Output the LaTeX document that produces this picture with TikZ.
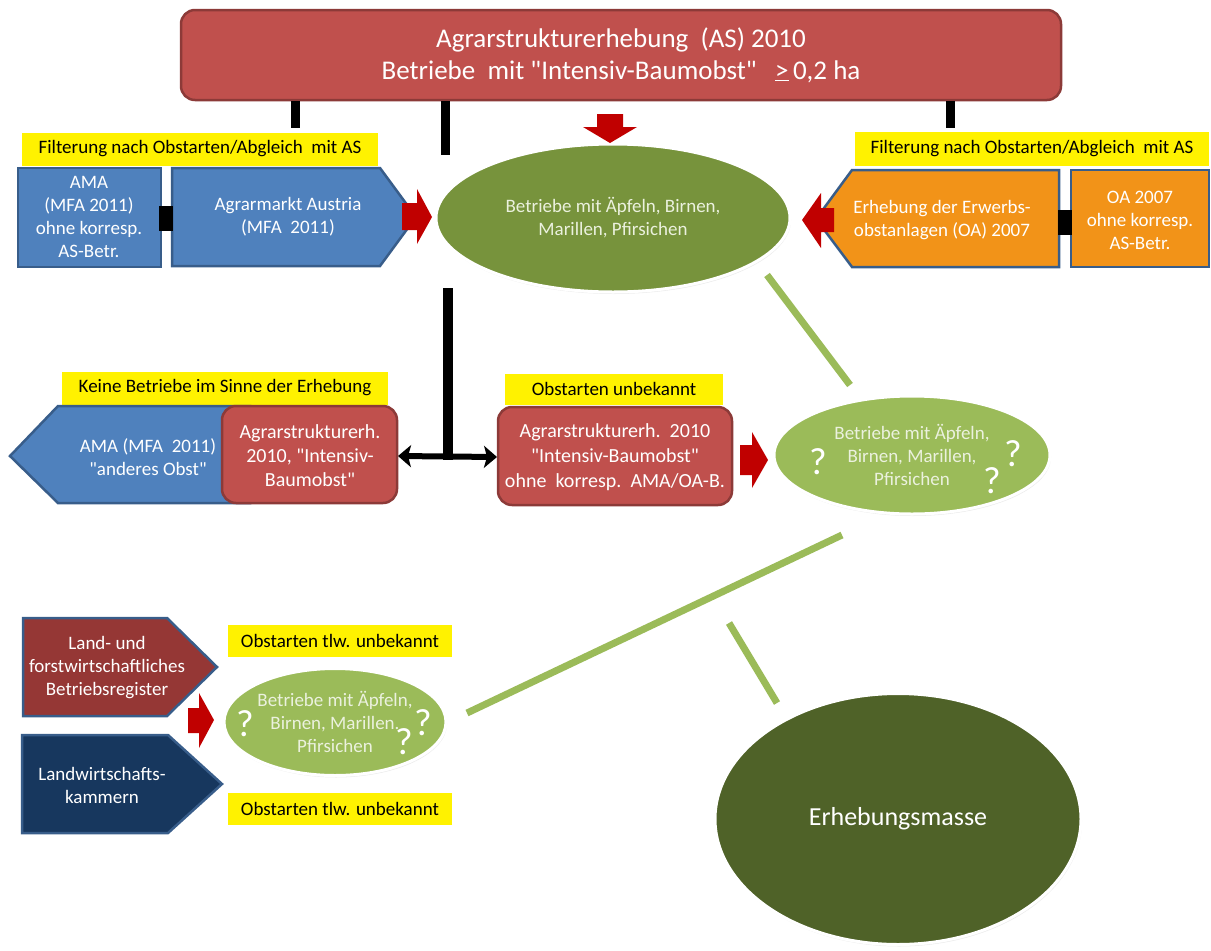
\documentclass[tikz,border=0pt]{standalone}
\usepackage{fontspec}
\setmainfont{Carlito}[Ligatures=TeXReset]
\usetikzlibrary{shapes.geometric,arrows.meta,shadows}
\definecolor{boxred}{HTML}{C0504D}
\definecolor{boxredline}{HTML}{8C3A38}
\definecolor{boxblue}{HTML}{4F81BD}
\definecolor{boxblueline}{HTML}{385D8A}
\definecolor{boxorange}{HTML}{F29318}
\definecolor{darkred}{HTML}{953735}
\definecolor{navy}{HTML}{17375E}
\definecolor{arrowred}{HTML}{C00000}
\definecolor{ellgreen}{HTML}{77933C}
\definecolor{lightgreen}{HTML}{9BBB59}
\definecolor{massgreen}{HTML}{4F6228}
\definecolor{paletext}{HTML}{EBF1DE}
\begin{document}
\begin{tikzpicture}[x=1pt,y=-1pt,
  txt/.style={align=center,text=white,font=\fontsize{19}{23}\selectfont,inner sep=0},
  etxt/.style={align=center,text=paletext,font=\fontsize{19}{23}\selectfont,inner sep=0},
  ylabel/.style={fill=yellow,inner sep=0,text=black,font=\fontsize{19}{21}\selectfont},
  bluebox/.style={fill=boxblue,draw=boxblueline,line width=2.5pt},
  orangebox/.style={fill=boxorange,draw=boxblueline,line width=2.5pt},
  redbox/.style={fill=boxred,draw=boxredline,line width=2.5pt,rounded corners=14pt},
  ell/.style={ellipse,draw=white,line width=3pt,inner sep=0,
     drop shadow={shadow xshift=1pt,shadow yshift=-2pt,opacity=0.15}},
  redarrow/.style={fill=arrowred},
  bar/.style={line width=9pt,black},
  greenbar/.style={line width=7pt,lightgreen},
  qm/.style={text=white,font=\fontsize{38}{38}\selectfont,inner sep=0}]
\useasboundingbox (0,0) rectangle (1211,951);

% ---- top box
\node[redbox,minimum width=880pt,minimum height=90pt,text=white,align=center,
  font=\fontsize{27}{32}\selectfont] (top) at (621,55)
  {Agrarstrukturerhebung~~(AS) 2010\\Betriebe~~mit "Intensiv-Baumobst"~~~\underline{>}\,0,2 ha};
\coordinate (b1) at (295,128);
\coordinate (b2) at (445,155);
\coordinate (b3) at (950,128);
\draw[bar] (top.south -| b1) -- (b1);
\draw[bar] (top.south -| b2) -- (b2);
\draw[bar] (top.south -| b3) -- (b3);

% ---- yellow labels
\node[ylabel,minimum width=356pt,minimum height=33pt] (yl1) at (200,149) {Filterung nach Obstarten/Abgleich~~mit AS};
\node[ylabel,minimum width=354pt,minimum height=34pt] (yl2) at (1032,149) {Filterung nach Obstarten/Abgleich~~mit AS};
\node[ylabel,minimum width=326pt,minimum height=33pt] (yl3) at (225,388) {Keine Betriebe im Sinne der Erhebung};
\node[ylabel,minimum width=218pt,minimum height=31pt] (yl4) at (614,389) {Obstarten unbekannt};
\node[ylabel,minimum width=224pt,minimum height=32pt] (yl5) at (340,641) {Obstarten tlw. unbekannt};
\node[ylabel,minimum width=224pt,minimum height=32pt] (yl6) at (340,809) {Obstarten tlw. unbekannt};

% ---- central ellipse
\node[ell,fill=ellgreen,minimum width=354pt,minimum height=148pt] (main) at (613,218) {};
\node[etxt] (maintxt) at (main) {Betriebe mit Äpfeln, Birnen,\\Marillen, Pfirsichen};
\fill[redarrow] (597,114) -- (623,114) -- (623,127) -- (637,127) -- (610,143) -- (583,127) -- (597,127) -- cycle;

% ---- left blue boxes
\draw[bluebox] (18,168) rectangle (161,267);
\node[txt] (ama) at (89,217) {AMA\\(MFA 2011)\\ohne korresp.\\AS-Betr.};
\draw[bluebox] (172,168) -- (380,168) -- (416,217) -- (380,266) -- (172,266) -- cycle;
\node[txt] (agm) at (288,217) {Agrarmarkt Austria\\(MFA~~2011)};
\fill[black] (159,206) rectangle (173,231);
\fill[redarrow] (402,203) -- (417,203) -- (417,189) -- (432,217) -- (417,244) -- (417,230) -- (402,230) -- cycle;

% ---- right orange boxes
\draw[orangebox] (852,170) -- (1059,170) -- (1059,267) -- (852,267) -- (816,219) -- cycle;
\node[txt] (erw) at (942,220) {Erhebung der Erwerbs-\\obstanlagen (OA) 2007};
\draw[orangebox] (1071,170) rectangle (1209,267);
\node[txt] (oa) at (1140,220) {OA 2007\\ohne korresp.\\AS-Betr.};
\fill[black] (1058,210) rectangle (1072,235);
\fill[redarrow] (834,208) -- (821,208) -- (821,193) -- (802,220) -- (821,248) -- (821,232) -- (834,232) -- cycle;

% ---- middle row
\draw[bluebox] (10,456) -- (58,406) -- (250,406) -- (250,503) -- (58,503) -- cycle;
\node[txt] (amaobst) at (148,457) {AMA (MFA~~2011)\\"anderes Obst"};
\draw[redbox] (222,406) rectangle (397,503);
\node[txt,font=\fontsize{20}{24}\selectfont] (asib) at (310,456) {Agrarstrukturerh.\\2010, "Intensiv-\\Baumobst"};
\draw[redbox] (498,407) rectangle (732,505);
\node[txt,font=\fontsize{20}{25}\selectfont] (asohne) at (615,457) {Agrarstrukturerh.~~2010\\"Intensiv-Baumobst"\\ohne~~korresp.~~AMA/OA-B.};
\coordinate (vt) at (448,288);
\coordinate (vb) at (448,460);
\draw[line width=10pt,black] (vt) -- (vb);
\draw[line width=6pt,black,{Stealth[length=13pt,width=22pt,inset=3pt]}-{Stealth[length=13pt,width=22pt,inset=3pt]}]
  (asib.east -| 398,0) -- (asohne.west -| 497,0);
\fill[redarrow] (740,445) -- (752,445) -- (752,432) -- (768,460) -- (752,488) -- (752,475) -- (740,475) -- cycle;

% ---- right light green ellipse
\node[ell,fill=lightgreen,minimum width=276pt,minimum height=118pt] (q1) at (912,455) {};
\node[etxt] (q1txt) at (q1) {Betriebe mit Äpfeln,\\Birnen, Marillen,\\Pfirsichen};
\node[qm] (q1a) at (818,462) {?};
\node[qm] (q1b) at (1013,454) {?};
\node[qm] (q1c) at (992,481) {?};
\draw[greenbar] (767,275) -- (850,385);

% ---- bottom left
\draw[bluebox,fill=darkred] (23,618) -- (167,618) -- (217,667) -- (167,716) -- (23,716) -- cycle;
\node[txt] (reg) at (107,668) {Land- und\\forstwirtschaftliches\\Betriebsregister};
\draw[bluebox,fill=navy] (22,735) -- (168,735) -- (222,784) -- (168,833) -- (22,833) -- cycle;
\node[txt] (lwk) at (102,785) {Landwirtschafts-\\kammern};
\fill[redarrow] (188,708) -- (199,708) -- (199,693) -- (214,720) -- (199,748) -- (199,733) -- (188,733) -- cycle;
\node[ell,fill=lightgreen,minimum width=222pt,minimum height=107pt] (q2) at (335,722) {};
\node[etxt] (q2txt) at (q2) {Betriebe mit Äpfeln,\\Birnen, Marillen.\\Pfirsichen};
\node[qm] (q2a) at (245,724) {?};
\node[qm] (q2b) at (423,723) {?};
\node[qm] (q2c) at (404,742) {?};

% ---- Erhebungsmasse
\node[ell,fill=massgreen,minimum width=366pt,minimum height=251pt] (mass) at (898,819) {};
\node[text=white,font=\fontsize{26}{30}\selectfont,inner sep=0] (masstxt) at (mass) {Erhebungsmasse};
\draw[greenbar] (842,535) -- (467,713);
\draw[greenbar] (729,623) -- (777,703);
\end{tikzpicture}
\end{document}
